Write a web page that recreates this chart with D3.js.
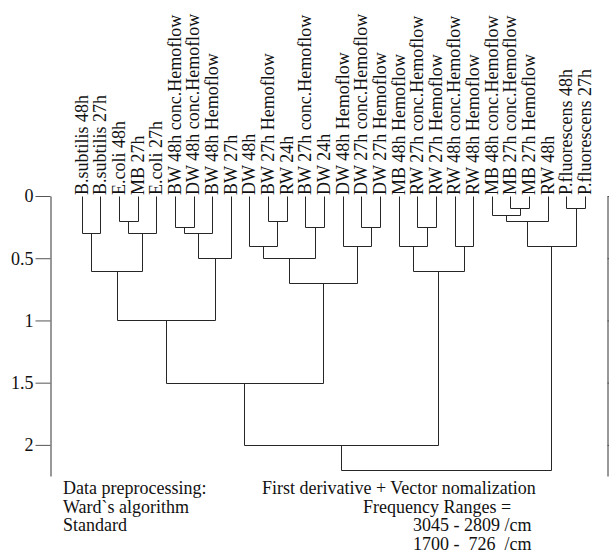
<!DOCTYPE html>
<html>
<head>
<meta charset="utf-8">
<script src="https://cdn.jsdelivr.net/npm/d3@7"></script>
<style>
  body { margin: 0; background: #fff; }
  svg { display: block; }
  svg text { font-family: 'Liberation Serif', 'Times New Roman', serif; }
</style>
</head>
<body>
<svg id="chart" width="609" height="553"></svg>
<script>
const leaves = [
    'B.subtilis 48h', 'B.subtilis 27h', 'E.coli 48h', 'MB 27h', 'E.coli 27h',
    'BW 48h conc.Hemoflow', 'DW 48h conc.Hemoflow', 'BW 48h Hemoflow', 'BW 27h',
    'DW 48h', 'BW 27h Hemoflow', 'RW 24h', 'BW 27h conc.Hemoflow', 'DW 24h',
    'DW 48h Hemoflow', 'DW 27h conc.Hemoflow', 'DW 27h Hemoflow',
    'MB 48h Hemoflow', 'RW 27h conc.Hemoflow', 'RW 27h Hemoflow',
    'RW 48h conc.Hemoflow', 'RW 48h Hemoflow',
    'MB 48h conc.Hemoflow', 'MB 27h conc.Hemoflow', 'MB 27h Hemoflow', 'RW 48h',
    'P.fluorescens 48h', 'P.fluorescens 27h'
]

// linkage rows [left, right, distance]; ids >= 28 point at earlier rows (28 = first row)
const merges = [
    [23, 24, 0.10], [26, 27, 0.10], [22, 28, 0.15], [2, 3, 0.20], [10, 11, 0.20],
    [30, 25, 0.20], [5, 6, 0.25], [12, 13, 0.25], [15, 16, 0.25], [18, 19, 0.25],
    [0, 1, 0.30], [31, 4, 0.30], [34, 7, 0.30], [9, 32, 0.40], [14, 36, 0.40],
    [17, 37, 0.40], [20, 21, 0.40], [33, 29, 0.40], [40, 8, 0.50], [41, 35, 0.50],
    [38, 39, 0.60], [43, 44, 0.60], [47, 42, 0.70], [48, 46, 1.00], [51, 50, 1.50],
    [52, 49, 2.00], [53, 45, 2.20]
]

const yTicks = [0, 0.5, 1, 1.5, 2]
const notesLeft = ['Data preprocessing:', 'Ward`s algorithm', 'Standard']
const notesRight = ['First derivative + Vector nomalization', 'Frequency Ranges =', '3045 - 2809 /cm', '1700 -  726  /cm']

const fontSize = 18

function buildTree() {
    const nodes = leaves.map(name => ({ name, dist: 0 }))
    merges.forEach(([a, b, dist]) => nodes.push({ dist, children: [nodes[a], nodes[b]] }))
    return d3.hierarchy(nodes[nodes.length - 1])
}

function drawDendrogram(chart, root, x, y) {
    root.eachAfter(node => {
        node.px = node.children ? d3.mean(node.children, c => c.px) : x(node.data.name)
        node.py = y(node.data.dist)
    })

    const crisp = v => Math.round(v) + 0.5

    chart.append('g')
        .selectAll('path')
        .data(root.descendants().filter(d => d.children))
        .join('path')
        .attr('d', d => {
            const [a, b] = d.children
            return `M${crisp(a.px)},${crisp(a.py)}V${crisp(d.py)}H${crisp(b.px)}V${crisp(b.py)}`
        })
        .attr('fill', 'none')
        .attr('stroke', '#262626')
        .attr('stroke-width', 1)

    chart.append('g')
        .selectAll('text')
        .data(root.leaves())
        .join('text')
        .attr('transform', d => `translate(${d.px},${y(0) - 1}) rotate(-90)`)
        .attr('dy', '0.33em')
        .attr('font-size', fontSize)
        .attr('fill', '#111')
        .text(d => d.data.name)
}

function drawAxes(chart, y) {
    const left = chart.append('g')
        .attr('transform', 'translate(50.5,0)')
        .call(d3.axisLeft(y).tickValues(yTicks).tickSize(15).tickSizeOuter(0).tickFormat(d3.format('~g')))
    left.attr('font-family', null).attr('font-size', null)
    left.select('.domain').attr('stroke', '#333')
    left.selectAll('.tick line').attr('stroke', '#555')
    left.selectAll('.tick text')
        .attr('font-size', fontSize)
        .attr('fill', '#111')
        .attr('x', -17)
        .attr('dy', '0.33em')

    const right = chart.append('g')
        .attr('transform', 'translate(607.5,0)')
        .call(d3.axisRight(y).tickValues(yTicks).tickSize(15).tickSizeOuter(0).tickFormat(''))
    right.select('.domain').attr('stroke', '#333')
    right.selectAll('.tick line').attr('stroke', '#555')
}

function drawNotes(chart) {
    const lineY = i => 494 + i * 18.7
    chart.append('g')
        .selectAll('text')
        .data(notesLeft)
        .join('text')
        .attr('x', 63)
        .attr('y', (d, i) => lineY(i))
        .attr('font-size', fontSize)
        .attr('fill', '#111')
        .text(d => d)

    const rightX = [262, 363, 413, 413]
    chart.append('g')
        .selectAll('text')
        .data(notesRight)
        .join('text')
        .attr('x', (d, i) => rightX[i])
        .attr('y', (d, i) => lineY(i))
        .attr('font-size', fontSize)
        .attr('fill', '#111')
        .style('white-space', 'pre')
        .text(d => d)
}

function main() {
    const chart = d3.select('#chart')
    const x = d3.scalePoint().domain(leaves).range([81.7, 585])
    const y = d3.scaleLinear().domain([0, 2.25]).range([196, 476])
    const root = buildTree()

    drawDendrogram(chart, root, x, y)
    drawAxes(chart, y)
    drawNotes(chart)
}

main()
</script>
</body>
</html>
